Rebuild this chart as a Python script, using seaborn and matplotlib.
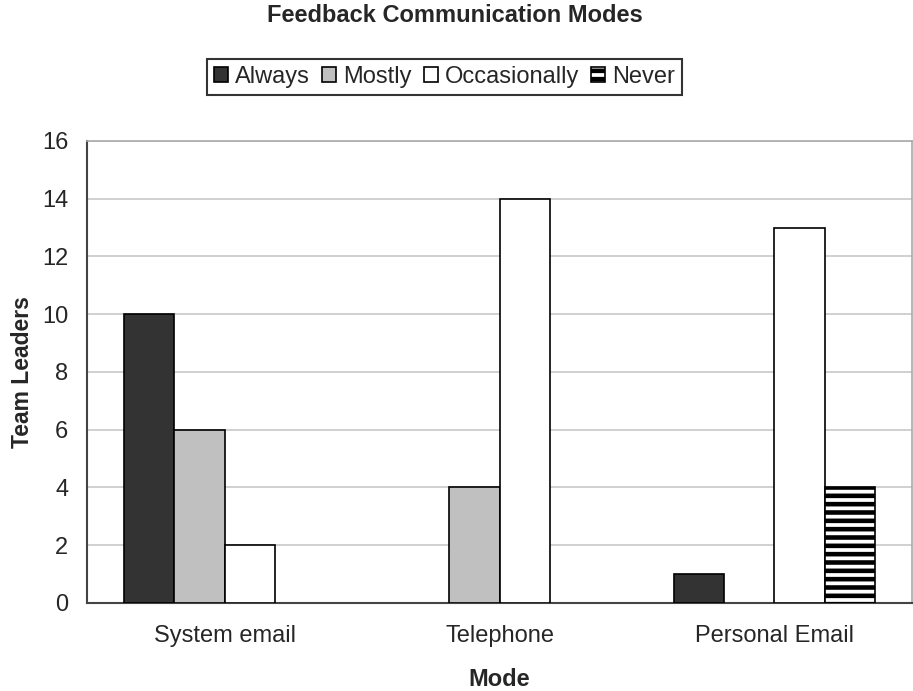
import numpy as np
import pandas as pd
import matplotlib
matplotlib.use("Agg")
import matplotlib.pyplot as plt
import seaborn as sns
from matplotlib.patches import Patch

# data
modes = ["System email", "Telephone", "Personal Email"]
frequencies = ["Always", "Mostly", "Occasionally", "Never"]
always = [10, 0, 1]
mostly = [6, 4, 0]
occasionally = [2, 14, 13]
never = [0, 0, 4]
y_ticks = [0, 2, 4, 6, 8, 10, 12, 14, 16]

fill_colors = {"Always": "#333333", "Mostly": "#c0c0c0",
               "Occasionally": "#ffffff", "Never": "#ffffff"}

sns.set_style("white")
plt.rcParams["font.family"] = ["Liberation Sans", "DejaVu Sans"]
plt.rcParams["hatch.linewidth"] = 3.3

df = pd.DataFrame({"Mode": modes, "Always": always, "Mostly": mostly,
                   "Occasionally": occasionally, "Never": never})
long_df = df.melt(id_vars="Mode", var_name="Frequency", value_name="Count")

fig = plt.figure(figsize=(9.13, 6.91), dpi=100)
ax = fig.add_axes([0.0953, 0.1274, 0.9036, 0.6686])

sns.barplot(data=long_df, x="Mode", y="Count", hue="Frequency",
            hue_order=frequencies, order=modes, palette=fill_colors,
            width=0.73, edgecolor="black", linewidth=1.2, saturation=1,
            legend=False, ax=ax, zorder=3)

# hatch the "Never" bars, hide zero-height bars
for container, name in zip(ax.containers, frequencies):
    for bar in container:
        if bar.get_height() == 0:
            bar.set_visible(False)
        if name == "Never":
            bar.set_hatch("--")

ax.set_ylim(0, 16)
ax.set_xlim(-0.5, 2.5)
ax.set_yticks(y_ticks)
ax.yaxis.grid(True, color="#c8c8c8", linewidth=1.2, zorder=0)
ax.set_axisbelow(True)

ax.tick_params(axis="y", labelsize=17, length=6.5, width=1.2, color="#444444", pad=7)
ax.tick_params(axis="x", which="major", labelsize=17, length=0, pad=16)
ax.set_xticks([-0.5, 0.5, 1.5, 2.5], minor=True)
ax.tick_params(axis="x", which="minor", length=6, width=1.2, color="#444444")

for side in ["left", "bottom"]:
    ax.spines[side].set_color("#444444")
    ax.spines[side].set_linewidth(1.5)
for side in ["top", "right"]:
    ax.spines[side].set_color("#aaaaaa")
    ax.spines[side].set_linewidth(1.2)

ax.set_xlabel("Mode", fontsize=17, fontweight="bold", labelpad=15)
ax.set_ylabel("Team Leaders", fontsize=16.5, fontweight="bold", labelpad=6)

fig.suptitle("Feedback Communication Modes", fontsize=17, fontweight="bold",
             x=0.498, y=0.977, va="center")

handles = [Patch(facecolor=fill_colors[f], edgecolor="black", linewidth=1.2,
                 hatch="--" if f == "Never" else None) for f in frequencies]
leg = fig.legend(handles, frequencies, loc="center", bbox_to_anchor=(0.487, 0.8886),
                 ncol=4, fontsize=17, frameon=True, fancybox=False,
                 edgecolor="black", handlelength=0.6, handleheight=0.6,
                 handletextpad=0.3, columnspacing=0.5, borderpad=0.3)
leg.get_frame().set_linewidth(1.5)

fig.savefig("out.png", dpi=100)
